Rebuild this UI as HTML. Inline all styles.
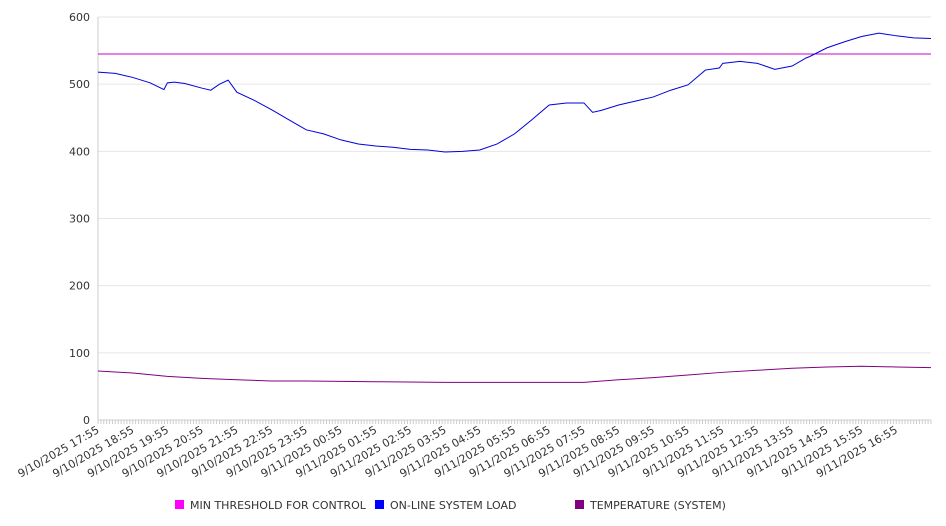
<!DOCTYPE html>
<html><head><meta charset="utf-8"><style>
body{margin:0;background:#fff;}
svg{display:block;font-family:"DejaVu Sans","Liberation Sans",sans-serif;}
</style></head><body>
<svg id="chart" width="946" height="526" viewBox="0 0 946 526" xmlns="http://www.w3.org/2000/svg">
<g id="grid"></g>
<g id="axes"></g>
<g id="series"></g>
<g id="legend">
 <g><rect x="175" y="500" width="9" height="9" fill="#ff00ff"/><text x="190" y="509" font-size="11" fill="#333">MIN THRESHOLD FOR CONTROL</text></g>
 <g><rect x="375" y="500" width="9" height="9" fill="#0000ff"/><text x="390" y="509" font-size="11" fill="#333">ON-LINE SYSTEM LOAD</text></g>
 <g><rect x="575" y="500" width="9" height="9" fill="#800080"/><text x="590" y="509" font-size="11" fill="#333">TEMPERATURE (SYSTEM)</text></g>
</g>
</svg>
<script>
const tickLabels=["9/10/2025 17:55","9/10/2025 18:55","9/10/2025 19:55","9/10/2025 20:55","9/10/2025 21:55","9/10/2025 22:55","9/10/2025 23:55","9/11/2025 00:55","9/11/2025 01:55","9/11/2025 02:55","9/11/2025 03:55","9/11/2025 04:55","9/11/2025 05:55","9/11/2025 06:55","9/11/2025 07:55","9/11/2025 08:55","9/11/2025 09:55","9/11/2025 10:55","9/11/2025 11:55","9/11/2025 12:55","9/11/2025 13:55","9/11/2025 14:55","9/11/2025 15:55","9/11/2025 16:55"];
const yTicks=[0,100,200,300,400,500,600];
const loadHours=[0,0.5,1,1.5,1.9,2,2.2,2.5,3,3.25,3.5,3.75,4,4.5,5,5.5,6,6.5,7,7.5,8,8.5,9,9.5,10,10.5,11,11.5,12,12.5,13,13.5,14,14.25,14.5,15,15.5,16,16.5,17,17.5,17.9,18,18.5,19,19.5,20,20.4,20.5,21,21.5,22,22.5,23,23.5,24];
const loadValues=[518,516,510,502,492,502,503,501,494,491,500,506,488,476,462,447,432,426,417,411,408,406,403,402,399,400,402,411,426,447,469,472,472,458,461,469,475,481,491,499,521,524,531,534,531,522,527,539,541,554,563,571,576,572,569,568];
const tempHours=[0,1,2,3,4,5,6,8,10,12,14,15,16,17,18,19,20,21,22,23,24];
const tempValues=[73,70,65,62,60,58,58,57,56,56,56,60,63,67,71,74,77,79,80,79,78];
const thresholdValue=545;

const X0=98,X1=931,Y0=420,Y1=17;
const xs=h=>X0+h*(X1-X0)/24;
const ys=v=>Y0-v*(Y0-Y1)/600;
const NS="http://www.w3.org/2000/svg";
function mk(tag,attrs,parent){const e=document.createElementNS(NS,tag);for(const k in attrs)e.setAttribute(k,attrs[k]);parent.appendChild(e);return e;}
const grid=document.getElementById('grid'),axes=document.getElementById('axes'),series=document.getElementById('series');
yTicks.forEach(v=>{
  const l=mk('line',{x1:X0,x2:X1,y1:ys(v),y2:ys(v),stroke:'#e6e6e6','stroke-width':1},grid);
  
  
  const t=mk('text',{x:90,y:ys(v)+4,'text-anchor':'end','font-size':11,fill:'#333'},axes);
  t.textContent=v;
  
  
});
const ax=mk('line',{x1:X0,x2:X0,y1:Y1,y2:Y0,stroke:'#ccc'},axes);


const bx=mk('line',{x1:X0,x2:X1,y1:Y0,y2:Y0,stroke:'#ccc'},axes);


for(let i=0;i<=288;i++){const x=xs(i/12);const tk=mk('line',{x1:x,x2:x,y1:Y0,y2:Y0+4,stroke:'#ccc'},axes);
  
  }
tickLabels.forEach((s,i)=>{
  const x=xs(i);
  const t=mk('text',{x:x+2,y:Y0+12,'text-anchor':'end','font-size':11,fill:'#333',transform:`rotate(-30 ${x+2} ${Y0+12})`},axes);
  t.textContent=s;
  
  
});
const th=mk('line',{x1:X0,x2:X1,y1:ys(thresholdValue),y2:ys(thresholdValue),stroke:'#cc00cc','stroke-width':1},series);


const lp=mk('polyline',{points:loadHours.map((h,i)=>xs(h)+','+ys(loadValues[i])).join(' '),fill:'none',stroke:'#0000dd','stroke-width':1},series);


const tp=mk('polyline',{points:tempHours.map((h,i)=>xs(h)+','+ys(tempValues[i])).join(' '),fill:'none',stroke:'#800080','stroke-width':1},series);


</script>
</body></html>
